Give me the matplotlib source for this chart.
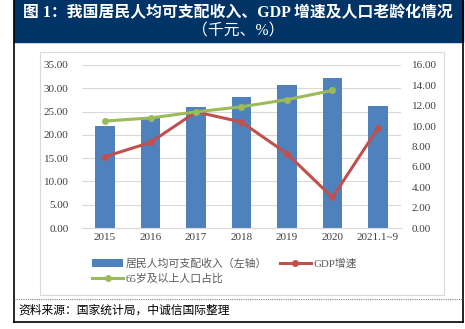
import numpy as np
import matplotlib.pyplot as plt
from matplotlib.patches import Rectangle
from matplotlib.lines import Line2D

plt.rcParams['font.family'] = ['Liberation Serif', 'Noto Sans CJK SC']

years = ["2015", "2016", "2017", "2018", "2019", "2020", "2021.1~9"]
income = [21.97, 23.82, 25.97, 28.23, 30.73, 32.19, 26.27]
gdp = [7.0, 8.4, 11.4, 10.4, 7.3, 3.0, 9.8]
aged = [10.5, 10.8, 11.4, 11.9, 12.6, 13.5]

W, H = 465, 329
fig = plt.figure(figsize=(W / 100, H / 100), dpi=100)

def fx(x):
    return x / W

def fy(y):
    return 1 - y / H

# 标题栏
fig.patches.append(Rectangle((fx(14), fy(42)), fx(463) - fx(14), fy(0) - fy(42),
                             transform=fig.transFigure, color="#003366", zorder=0))
fig.text(fx(238), fy(13), "图 1：我国居民人均可支配收入、GDP 增速及人口老龄化情况",
         color="white", fontsize=11.4, fontweight="bold", ha="center", va="center")
fig.text(fx(238), fy(31), "（千元、%）", color="white", fontsize=11.4,
         ha="center", va="center")

# 外框
for x in (14, 463):
    fig.lines.append(Line2D([fx(x), fx(x)], [fy(0), fy(322)], transform=fig.transFigure,
                            color="black", lw=1.2))
fig.lines.append(Line2D([fx(14), fx(463)], [fy(322), fy(322)], transform=fig.transFigure,
                        color="black", lw=1.2))
fig.lines.append(Line2D([fx(14), fx(463)], [fy(299), fy(299)], transform=fig.transFigure,
                        color="#808080", lw=0.8, ls=(0, (1, 1))))
# 图表区域边框
fig.patches.append(Rectangle((fx(40), fy(295)), fx(444) - fx(40), fy(52) - fy(295),
                             transform=fig.transFigure, fill=False, ec="#d9d9d9", lw=0.8))

fig.text(fx(18), fy(311), "资料来源：国家统计局，中诚信国际整理", fontsize=8.5,
         style="italic", ha="left", va="center", color="black")

ax = fig.add_axes([fx(82.3), fy(228), fx(400.7) - fx(82.3), fy(65) - fy(228)])
x = np.arange(len(years))
b = ax.bar(x, income, width=0.42, color="#4F81BD", zorder=2)
ax.set_ylim(0, 35)
ax.set_yticks(np.arange(0, 36, 5))
ax.set_yticklabels([f"{v:.2f}" for v in np.arange(0, 36, 5)])
ax.set_xlim(-0.5, len(years) - 0.5)
ax.set_xticks(x)
ax.set_xticklabels(years)
ax.grid(axis="y", color="#d9d9d9", lw=0.8, zorder=0)
for s in ["top", "left", "right"]:
    ax.spines[s].set_visible(False)
ax.spines["bottom"].set_color("#d9d9d9")
ax.tick_params(length=0, labelsize=8, colors="#404040")
ax.tick_params(axis="y", pad=10)

ax2 = ax.twinx()
l1, = ax2.plot(x, gdp, color="#C0504D", lw=2.2, marker="o", ms=4, zorder=3)
l2, = ax2.plot(x[:len(aged)], aged, color="#9BBB59", lw=2.2, marker="o", ms=4, zorder=3)
ax2.set_ylim(0, 16)
ax2.set_yticks(np.arange(0, 17, 2))
ax2.set_yticklabels([f"{v:.2f}" for v in np.arange(0, 17, 2)])
for s in ax2.spines.values():
    s.set_visible(False)
ax2.tick_params(length=0, labelsize=8, colors="#404040", pad=8)

leg = fig.legend([b, l2, l1], ["居民人均可支配收入（左轴）", "65岁及以上人口占比", "GDP增速"],
                 loc="upper left", bbox_to_anchor=(fx(88), fy(254)), ncol=2, frameon=False,
                 fontsize=7.8, handlelength=2.8, columnspacing=1.2, labelspacing=0.45,
                 handletextpad=0.3, borderaxespad=0)
for t in leg.get_texts():
    t.set_color("#595959")

fig.savefig("out.png", dpi=100)
